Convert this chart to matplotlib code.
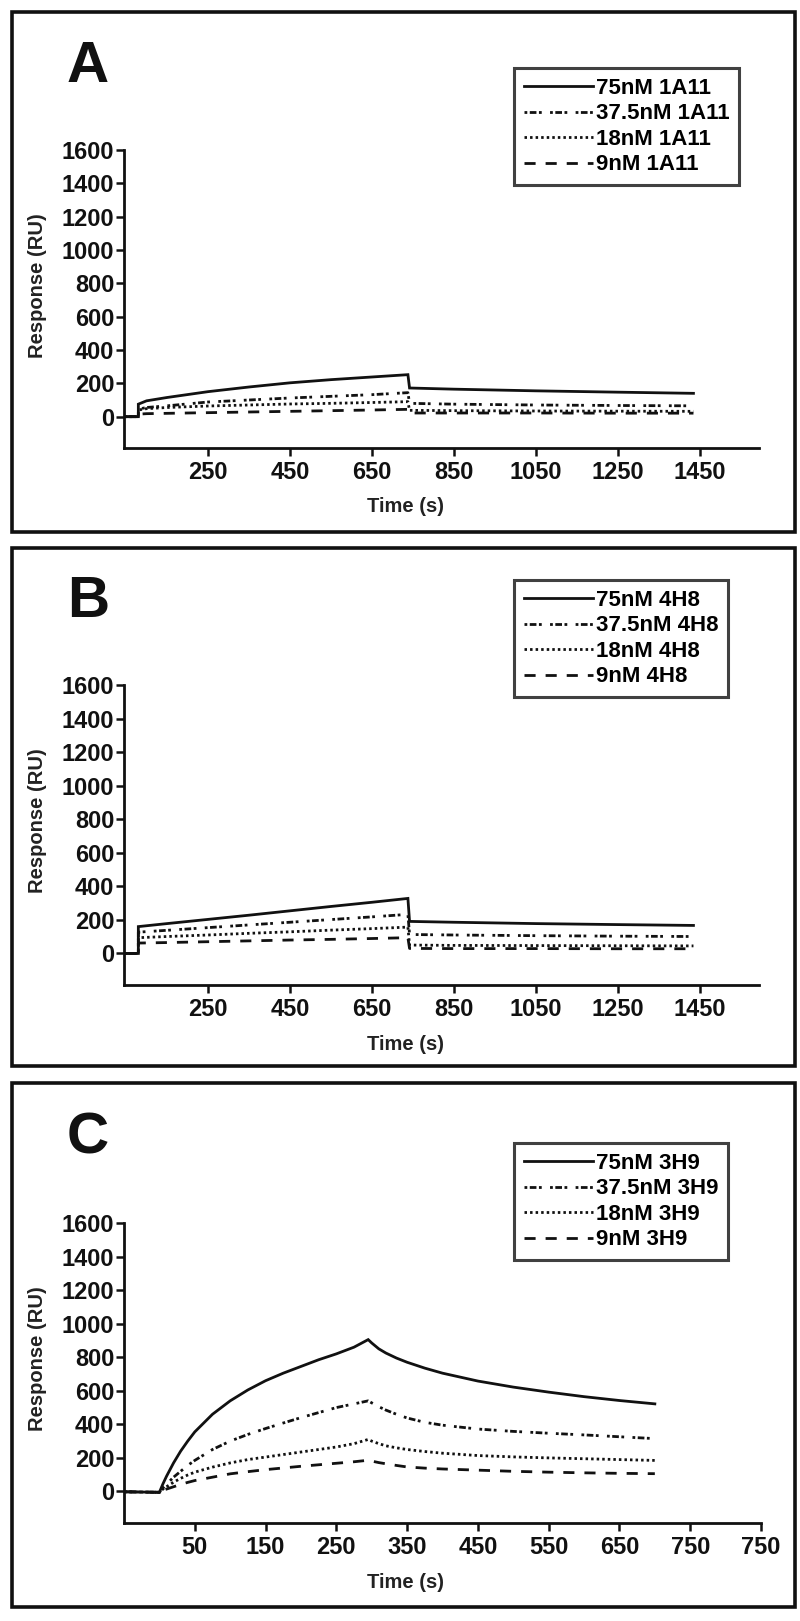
import matplotlib
matplotlib.use('Agg')
import matplotlib.pyplot as plt
from matplotlib.patches import Rectangle

plt.rcParams['font.family'] = ['Liberation Sans', 'DejaVu Sans']
plt.rcParams['font.weight'] = 'bold'

# ---------------- data ----------------
A_time = [45, 80, 80, 100, 150, 250, 350, 450, 550, 650, 738, 742, 850, 1050, 1250, 1435]
A_75 = [0, 0, 75, 95, 115, 150, 178, 203, 222, 238, 252, 172, 165, 155, 147, 140]
A_37 = [0, 0, 45, 55, 65, 88, 100, 112, 122, 132, 144, 80, 75, 70, 67, 65]
A_18 = [0, 0, 40, 48, 55, 64, 70, 76, 80, 85, 90, 38, 36, 34, 33, 32]
A_9 = [0, 0, 15, 18, 20, 24, 28, 32, 36, 40, 44, 22, 22, 22, 21, 21]
A_labels = ["75nM 1A11", "37.5nM 1A11", "18nM 1A11", "9nM 1A11"]

B_time = [45, 80, 80, 150, 250, 350, 450, 550, 650, 738, 742, 850, 1050, 1250, 1435]
B_75 = [0, 0, 160, 178, 203, 228, 254, 280, 305, 328, 191, 186, 178, 172, 167]
B_37 = [0, 0, 127, 138, 154, 170, 186, 202, 218, 233, 113, 110, 106, 103, 101]
B_18 = [0, 0, 94, 101, 110, 120, 129, 139, 148, 157, 50, 48, 47, 46, 45]
B_9 = [0, 0, 62, 65, 70, 75, 80, 84, 89, 94, 30, 29, 29, 28, 28]
B_labels = ["75nM 4H8", "37.5nM 4H8", "18nM 4H8", "9nM 4H8"]

C_time = [-50, 0, 5, 10, 20, 30, 40, 50, 75, 100, 125, 150, 175, 200, 225, 250, 275, 295,
          300, 310, 320, 335, 350, 375, 400, 450, 500, 550, 600, 650, 700]
C_75 = [-2, -5, 45, 90, 170, 240, 300, 355, 460, 540, 605, 660, 705, 745, 785, 820, 860, 905,
        885, 850, 825, 795, 770, 735, 705, 658, 622, 592, 565, 542, 522]
C_37 = [-2, -5, 20, 42, 85, 120, 155, 185, 250, 300, 340, 375, 408, 440, 470, 500, 522, 540,
        528, 505, 485, 460, 438, 412, 395, 372, 358, 347, 337, 326, 315]
C_18 = [-2, -5, 14, 28, 55, 78, 98, 115, 145, 170, 190, 205, 220, 235, 250, 265, 285, 310,
        300, 285, 272, 260, 250, 238, 228, 214, 206, 200, 195, 190, 185]
C_9 = [-2, -5, 7, 14, 28, 42, 54, 65, 85, 105, 118, 130, 140, 150, 159, 168, 177, 186,
       181, 172, 165, 155, 146, 139, 134, 127, 120, 115, 111, 108, 106]
C_labels = ["75nM 3H9", "37.5nM 3H9", "18nM 3H9", "9nM 3H9"]

AB_xticks = [250, 450, 650, 850, 1050, 1250, 1450]
AB_xticklabels = ["250", "450", "650", "850", "1050", "1250", "1450"]
C_xticks = [50, 150, 250, 350, 450, 550, 650, 750, 850]
C_xticklabels = ["50", "150", "250", "350", "450", "550", "650", "750", "750"]
y_ticks = [0, 200, 400, 600, 800, 1000, 1200, 1400, 1600]

# ---------------- layout ----------------
W, H = 800, 1621
fig = plt.figure(figsize=(W / 100, H / 100), dpi=100)


def rect(l, t, r, b):
    return [l / W, 1 - b / H, (r - l) / W, (b - t) / H]


styles = ['-', (0, (1, 0.9, 2.4, 0.9, 1, 3.0)), (0, (0.9, 1.1)), (0, (4.0, 3.6))]

panels = [
    dict(letter='A', time=A_time, ys=[A_75, A_37, A_18, A_9], labels=A_labels,
         frame=(12, 12, 795, 532), ax=(124, 150, 759, 448), xlim=(45, 1595),
         xt=AB_xticks, xtl=AB_xticklabels, letter_top=40, leg_top=68),
    dict(letter='B', time=B_time, ys=[B_75, B_37, B_18, B_9], labels=B_labels,
         frame=(12, 548, 795, 1066), ax=(124, 685, 759, 985), xlim=(45, 1595),
         xt=AB_xticks, xtl=AB_xticklabels, letter_top=575, leg_top=580),
    dict(letter='C', time=C_time, ys=[C_75, C_37, C_18, C_9], labels=C_labels,
         frame=(12, 1083, 795, 1607), ax=(124, 1223, 761, 1523), xlim=(-50, 850),
         xt=C_xticks, xtl=C_xticklabels, letter_top=1112, leg_top=1143),
]

for p in panels:
    l, t, r, b = p['frame']
    fig.add_artist(Rectangle((l / W, 1 - b / H), (r - l) / W, (b - t) / H,
                             transform=fig.transFigure, fill=False,
                             lw=2.6, ec='#111111'))
    al, at, ar, ab = p['ax']
    ax = fig.add_axes(rect(al, at, ar, ab))
    handles = []
    for y, ls, lab in zip(p['ys'], styles, p['labels']):
        ln, = ax.plot(p['time'], y, color='#111111', lw=2.0, linestyle=ls,
                      solid_joinstyle='miter', label=lab)
        handles.append(ln)
    ax.set_xlim(*p['xlim'])
    ax.set_ylim(-188, 1600)
    ax.set_xticks(p['xt'])
    ax.set_xticklabels(p['xtl'])
    ax.set_yticks(y_ticks)
    for s in ['top', 'right']:
        ax.spines[s].set_visible(False)
    for s in ['left', 'bottom']:
        ax.spines[s].set_linewidth(2.0)
        ax.spines[s].set_color('#111111')
    ax.tick_params(axis='both', direction='out', length=5.5, width=1.8,
                   colors='#111111', labelsize=17)
    ax.tick_params(axis='x', pad=4)
    ax.tick_params(axis='y', pad=1.5)
    for tl in ax.get_xticklabels() + ax.get_yticklabels():
        tl.set_fontweight('bold')
    ax.patch.set_alpha(0)

    leg = ax.legend(handles=handles, loc='upper left',
                    bbox_to_anchor=(514 / W, 1 - p['leg_top'] / H),
                    bbox_transform=fig.transFigure, frameon=True,
                    fancybox=False, edgecolor='#111111',
                    prop={'weight': 'bold', 'size': 16},
                    handlelength=3.1, handletextpad=0.12, labelspacing=0.2,
                    borderpad=0.45, borderaxespad=0)
    leg.get_frame().set_linewidth(2.2)

    fig.text(67 / W, 1 - p['letter_top'] / H, p['letter'], ha='left', va='top',
             fontsize=42, fontweight='bold', color='#111111')
    fig.text(37.5 / W, 1 - (at + 136) / H, 'Response (RU)', rotation=90,
             ha='center', va='center', fontsize=14.5, fontweight='bold',
             color='#222222')
    fig.text(406 / W, 1 - (ab + 59) / H, 'Time (s)', ha='center', va='center',
             fontsize=14.5, fontweight='bold', color='#222222')

fig.savefig('out.png', dpi=100, facecolor='white')
